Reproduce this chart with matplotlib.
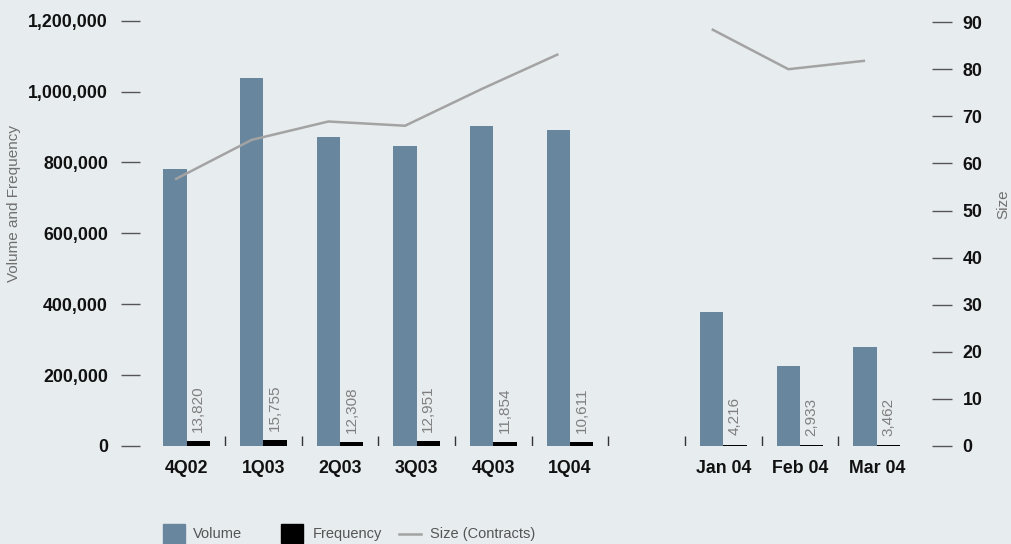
import numpy as np
import matplotlib
matplotlib.use("Agg")
import matplotlib.pyplot as plt
from matplotlib.patches import Rectangle
from matplotlib.lines import Line2D

# values
categories = ["4Q02", "1Q03", "2Q03", "3Q03", "4Q03", "1Q04", "Jan 04", "Feb 04", "Mar 04"]
volume = [782000, 1038000, 872000, 847000, 904000, 892000, 378000, 226000, 279000]
frequency = [13820, 15755, 12308, 12951, 11854, 10611, 4216, 2933, 3462]
size_quarterly = [56.6, 65.0, 68.9, 68.0, 75.8, 83.2]
size_monthly = [88.5, 80.0, 81.8]

left_ticks = [0, 200000, 400000, 600000, 800000, 1000000, 1200000]
right_ticks = [0, 10, 20, 30, 40, 50, 60, 70, 80, 90]

BG = "#e7ecef"
VOL_C = "#68869e"
LINE_C = "#a3a3a3"
W, H = 1012, 544

plt.rcParams["font.family"] = ["Liberation Sans", "DejaVu Sans"]

fig = plt.figure(figsize=(W / 100, H / 100), dpi=100, facecolor=BG)
ax = fig.add_axes([140 / W, 1 - 446 / H, (932 - 140) / W, (446 - 20.7) / H])
ax.set_facecolor(BG)

n_q = len(size_quarterly)
x = np.r_[np.arange(n_q), np.arange(n_q + 1, len(categories) + 1)]
bw = 0.304

ax.bar(x - bw / 2, volume, bw, color=VOL_C, zorder=2)
ax.bar(x + bw / 2, frequency, bw, color="black", zorder=2)
for xi, f in zip(x, frequency):
    ax.annotate(f"{f:,}", (xi + bw / 2, f), xytext=(0, 6.5), textcoords="offset points",
                rotation=90, ha="center", va="bottom", fontsize=11, color="#7f7f7f")

# little separators between the groups
seps = np.r_[x[:n_q] + 0.5, x[n_q:] - 0.5]
ax.vlines(seps, 0, 28000, color="#333333", lw=1)

ax.set_xlim(-0.609, 9.721)
ax.set_xticks(x, categories)
ax.tick_params(axis="x", length=0, pad=10)
ax.set_ylim(0, 1200000)
ax.set_yticks(left_ticks, [f"{v:,}" for v in left_ticks])
ax.tick_params(axis="y", length=13.7, width=1, color="#555555", pad=9.4)
for lab in ax.get_xticklabels() + ax.get_yticklabels():
    lab.set_fontweight("bold")
    lab.set_fontsize(12.8)
    lab.set_color("#111111")

ax2 = ax.twinx()
ax2.plot(x[:n_q] - bw / 2, size_quarterly, color=LINE_C, lw=1.8, solid_capstyle="butt")
ax2.plot(x[n_q:] - bw / 2, size_monthly, color=LINE_C, lw=1.8, solid_capstyle="butt")
ax2.set_ylim(0, 90.3)
ax2.set_yticks(right_ticks)
ax2.tick_params(axis="y", length=14.4, width=1, color="#555555", pad=7.7)
for lab in ax2.get_yticklabels():
    lab.set_fontweight("bold")
    lab.set_fontsize(12.8)
    lab.set_color("#111111")

for a in (ax, ax2):
    for s in a.spines.values():
        s.set_visible(False)

fig.text(14 / W, 1 - 204 / H, "Volume and Frequency", rotation=90, ha="center", va="center",
         fontsize=11, color="#707070")
fig.text(996 / W, 1 - 204 / H, "Size", rotation=90, ha="left", va="center",
         fontsize=11, color="#707070")

# legend along the bottom
def fx(px):
    return px / W

def fy(py):
    return 1 - py / H

fig.patches.append(Rectangle((fx(163.3), fy(542.7)), (185 - 163.3) / W, 18.4 / H,
                             transform=fig.transFigure, color=VOL_C))
fig.patches.append(Rectangle((fx(280.7), fy(542.7)), 22 / W, 18.4 / H,
                             transform=fig.transFigure, color="black"))
fig.lines.append(Line2D([fx(399.3), fx(420.7)], [fy(533.5), fy(533.5)],
                        transform=fig.transFigure, color=LINE_C, lw=1.8))
for px, txt in [(193.3, "Volume"), (312.3, "Frequency"), (430, "Size (Contracts)")]:
    fig.text(fx(px), fy(534), txt, ha="left", va="center", fontsize=10.5, color="#555555")

fig.savefig("out.png", dpi=100, facecolor=BG)
